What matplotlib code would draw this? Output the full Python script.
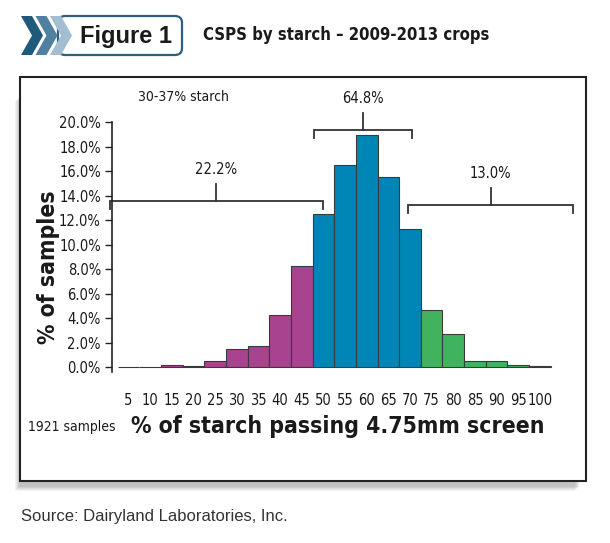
import matplotlib.pyplot as plt
from matplotlib.patches import Rectangle, FancyBboxPatch, Polygon

# values (% of samples per 5-point bin)
bin_labels = ['5', '10', '15', '20', '25', '30', '35', '40', '45', '50',
              '55', '60', '65', '70', '75', '80', '85', '90', '95', '100']
share = [0.0, 0.0, 0.2, 0.1, 0.5, 1.5, 1.7, 4.3, 8.3, 12.5,
         16.5, 19.0, 15.5, 11.3, 4.7, 2.7, 0.5, 0.5, 0.2, 0.1]
bin_group = ['low', 'low', 'low', 'low', 'low', 'low', 'low', 'low', 'low',
             'mid', 'mid', 'mid', 'mid', 'mid',
             'high', 'high', 'high', 'high', 'high', 'high']
group_colors = {'low': '#a8448f', 'mid': '#0086b6', 'high': '#41b35f'}

# bracket annotations: label, span (bin index units), level (%)
bracket_labels = ['22.2%', '64.8%', '13.0%']
bracket_spans = [(-0.86, 8.98), (8.57, 13.09), (12.91, 20.53)]
bracket_levels = [13.6, 19.37, 13.25]

cond = dict(family='DejaVu Sans', stretch='condensed')
ink = '#222222'

W, H = 610, 543
fig = plt.figure(figsize=(W / 100, H / 100), dpi=100)


def fx(px):
    return px / W


def fy(py):
    return 1 - py / H


# outer frame with a soft shadow to the lower left
for k, a in enumerate([0.08, 0.09, 0.10, 0.12, 0.14]):
    off = 5 - k
    fig.patches.append(Rectangle((fx(20 - off), fy(481 + off + 5)),
                                 fx(560), (480 - 90) / H,
                                 transform=fig.transFigure, facecolor='#777777',
                                 edgecolor='none', alpha=a, zorder=0))
fig.patches.append(Rectangle((fx(20), fy(481)), fx(566), (481 - 77) / H,
                             transform=fig.transFigure, facecolor='white',
                             edgecolor=ink, linewidth=1.5, zorder=1))

# "Figure 1" badge
fig.patches.append(FancyBboxPatch((fx(58), fy(55)), fx(124), 39 / H,
                                  boxstyle='round,pad=0,rounding_size=0.012',
                                  transform=fig.transFigure, facecolor='white',
                                  edgecolor='#2d5f80', linewidth=1.6, zorder=2))
for x0, c in zip([21, 35.5, 50], ['#1f5a7b', '#4f80a0', '#a3bdd1']):
    pts = [(x0, 16), (x0 + 11, 16), (x0 + 22, 35.5), (x0 + 11, 55), (x0, 55), (x0 + 11, 35.5)]
    fig.patches.append(Polygon([(fx(p), fy(q)) for p, q in pts], closed=True,
                               transform=fig.transFigure, facecolor=c,
                               edgecolor='none', zorder=3))
fig.text(fx(126), fy(37), 'Figure 1', fontsize=17, fontweight='bold',
         family=['Liberation Sans', 'DejaVu Sans'], color='#1a1a1a',
         ha='center', va='center', zorder=4)
fig.text(fx(203), fy(35), 'CSPS by starch \u2013 2009-2013 crops', fontsize=12,
         fontweight='bold', color='#1a1a1a', ha='left', va='center', **cond)

# plot area
ax = fig.add_axes([fx(112), fy(372.2), fx(583 - 112), (372.2 - 122.3) / H], zorder=5)
ax.patch.set_alpha(0)
x = list(range(len(share)))
ax.bar(x, share, width=1.0, color=[group_colors[g] for g in bin_group],
       edgecolor='#3a3a3a', linewidth=0.8)

ax.set_xlim(-0.763, 20.99)
ax.set_ylim(-0.4, 20)
ax.set_xticks(x)
ax.set_xticklabels(bin_labels)
ax.set_yticks(range(0, 21, 2))
ax.set_yticklabels([f'{v:.1f}%' for v in range(0, 21, 2)])
for side in ['top', 'right', 'bottom']:
    ax.spines[side].set_visible(False)
ax.spines['left'].set_linewidth(1.2)
ax.spines['left'].set_color(ink)
ax.tick_params(axis='x', length=0, pad=15, labelsize=10.5, labelcolor='#1a1a1a')
ax.tick_params(axis='y', direction='out', length=5, width=1, color=ink, pad=3,
               labelsize=10.5, labelcolor='#1a1a1a')
for lab in ax.get_xticklabels() + ax.get_yticklabels():
    lab.set_family(cond['family'])
    lab.set_stretch(cond['stretch'])

# brackets
drop, rise = 0.65, 1.4
for lab, (a, b), lvl in zip(bracket_labels, bracket_spans, bracket_levels):
    mid = (a + b) / 2
    ax.plot([a, a, b, b], [lvl - drop, lvl, lvl, lvl - drop], color='#333333',
            linewidth=1.3, clip_on=False, solid_joinstyle='miter')
    ax.plot([mid, mid], [lvl, lvl + rise], color='#333333', linewidth=1.3, clip_on=False)
    ax.text(mid, lvl + rise + 1.15, lab, ha='center', va='center', fontsize=10.5,
            color='#1a1a1a', **cond)

ax.text(2.52, 22.07, '30-37% starch', ha='center', va='center', fontsize=10,
        color='#1a1a1a', **cond)

fig.text(fx(48), fy(267), '% of samples', rotation=90, ha='center', va='center',
         fontsize=16.5, fontweight='bold', color='#1a1a1a', **cond)
fig.text(fx(338), fy(427), '% of starch passing 4.75mm screen', ha='center',
         va='center', fontsize=16.5, fontweight='bold', color='#1a1a1a', **cond)
fig.text(fx(72), fy(427), '1921 samples', ha='center', va='center', fontsize=10,
         color='#1a1a1a', **cond)
fig.text(fx(21), fy(517), 'Source: Dairyland Laboratories, Inc.', ha='left',
         va='center', fontsize=12, family=['Liberation Sans', 'DejaVu Sans'],
         color='#333333')

fig.savefig('out.png', dpi=100)
